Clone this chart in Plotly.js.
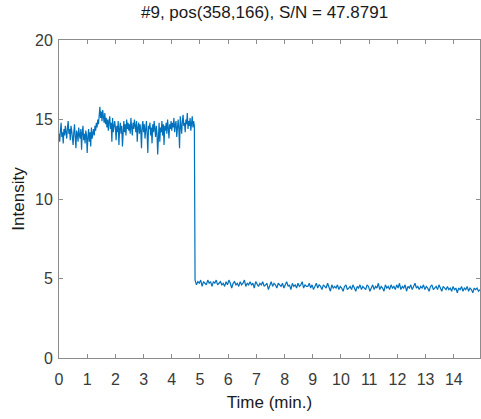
<!DOCTYPE html>
<html>
<head>
<meta charset="utf-8">
<script src="https://cdn.plot.ly/plotly-3.0.1.min.js"></script>
<style>html,body{margin:0;padding:0;background:#fff;}#chart{width:481px;height:419px;}</style>
</head>
<body>
<div id="chart"></div>
<script>
// Bright state (before bleaching), sampled every 0.025 min from t = 0
var brightStart = 0;
var brightStep = 0.025;
var brightIntensity = [
14.1,13.6,14.3,14.8,13.9,14.2,13.5,14.4,14.0,14.6,
14.2,13.8,14.5,14.9,14.1,14.4,13.7,14.6,14.3,14.0,
13.4,14.2,14.7,13.9,13.2,14.3,14.1,13.6,14.5,14.0,
13.8,14.4,13.1,14.2,14.6,13.7,14.1,13.5,14.3,14.0,
12.9,13.9,14.4,13.6,14.2,13.3,14.5,13.8,14.1,14.4,
14.0,14.6,14.3,14.8,14.5,15.0,14.7,15.3,15.8,15.1,
15.5,14.9,15.6,15.2,14.8,15.4,14.7,15.1,14.5,15.0,
14.3,14.9,15.2,14.4,14.8,13.6,15.1,14.2,14.7,14.9,
14.5,13.7,14.6,14.2,14.9,13.4,14.4,14.8,14.1,14.6,
13.3,14.5,14.9,14.2,14.7,14.0,15.0,14.4,14.8,14.3,
14.7,14.1,15.1,14.5,14.0,14.8,14.4,15.0,14.6,14.2,
14.9,13.6,14.5,14.8,14.1,14.7,14.3,13.2,14.6,14.9,
14.2,14.7,13.8,14.5,14.9,14.1,12.9,14.6,14.4,14.8,
14.0,14.5,13.5,14.7,14.2,14.9,14.3,13.9,14.6,14.1,
12.8,14.4,14.8,13.6,14.5,14.2,14.9,14.0,14.7,13.4,
14.6,14.3,14.8,14.1,15.0,14.5,13.8,14.7,14.4,14.9,
14.3,14.8,14.5,15.1,14.2,14.7,14.9,13.9,14.6,15.0,
14.4,13.2,15.2,14.5,14.1,14.9,15.3,14.6,14.8,14.2,
15.0,14.7,15.4,14.4,14.9,14.6,15.1,14.3,14.8,15.2,
14.5,14.9,14.6
];
// Dark state (after bleaching), sampled every 0.05 min from t = 4.825
var darkStart = 4.825;
var darkStep = 0.05;
var darkIntensity = [
4.9,4.6,4.8,4.7,4.9,4.5,4.8,4.7,4.6,4.9,
4.7,4.8,4.5,4.8,4.7,4.9,4.6,4.7,4.8,4.6,
4.7,4.5,4.8,4.6,4.9,4.7,4.4,4.7,4.8,4.6,
4.7,4.5,4.8,4.6,4.7,4.9,4.5,4.7,4.6,4.8,
4.6,4.7,4.4,4.8,4.6,4.5,4.7,4.6,4.8,4.5,
4.6,4.7,4.3,4.6,4.8,4.5,4.7,4.6,4.4,4.7,
4.6,4.5,4.7,4.4,4.6,4.8,4.5,4.6,4.3,4.7,
4.5,4.6,4.4,4.7,4.5,4.6,4.8,4.4,4.6,4.5,
4.5,4.7,4.4,4.6,4.3,4.5,4.7,4.4,4.6,4.5,
4.3,4.6,4.5,4.4,4.7,4.5,4.2,4.6,4.4,4.5,
4.4,4.6,4.3,4.5,4.4,4.2,4.5,4.6,4.3,4.4,
4.5,4.3,4.6,4.4,4.2,4.5,4.4,4.6,4.3,4.5,
4.4,4.3,4.6,4.5,4.2,4.4,4.6,4.3,4.5,4.4,
4.7,4.3,4.5,4.4,4.2,4.6,4.4,4.5,4.3,4.6,
4.4,4.5,4.3,4.6,4.4,4.7,4.3,4.5,4.4,4.6,
4.2,4.5,4.4,4.6,4.3,4.5,4.7,4.4,4.5,4.3,
4.5,4.4,4.6,4.3,4.5,4.4,4.2,4.5,4.6,4.3,
4.4,4.5,4.3,4.6,4.4,4.2,4.5,4.4,4.3,4.5,
4.3,4.4,4.2,4.5,4.3,4.4,4.1,4.4,4.3,4.5,
4.2,4.4,4.3,4.5,4.2,4.4,4.3,4.1,4.4,4.3,
4.4,4.2,4.3
];
var xTicks = [0,1,2,3,4,5,6,7,8,9,10,11,12,13,14];
var yTicks = [0,5,10,15,20];
var titleText = '#9, pos(358,166), S/N = 47.8791';
var xLabel = 'Time (min.)';
var yLabel = 'Intensity';

var t = [], y = [];
brightIntensity.forEach(function(v, i){ t.push(brightStart + i*brightStep); y.push(v); });
darkIntensity.forEach(function(v, i){ t.push(darkStart + i*darkStep); y.push(v); });

var font = 'Liberation Sans, Arial, Helvetica, sans-serif';
var axisCommon = {
  showgrid: false, zeroline: false,
  showline: true, linecolor: '#8c8c8c', linewidth: 1,
  mirror: 'ticks', ticks: 'inside', ticklen: 4, tickcolor: '#8c8c8c', tickwidth: 1,
  tickfont: {family: font, size: 16, color: '#3a3a3a'}
};
var layout = {
  width: 481, height: 419,
  margin: {l: 59, r: 1, t: 40, b: 61},
  paper_bgcolor: '#ffffff', plot_bgcolor: '#ffffff',
  showlegend: false,
  title: {text: titleText, font: {family: font, size: 17, color: '#1a1a1a'}, x: 0.55, xanchor: 'center', y: 0.972, yanchor: 'middle'},
  xaxis: Object.assign({}, axisCommon, {
    range: [0, 14.93], tickvals: xTicks, ticktext: xTicks.map(String), ticklabelstandoff: 7,
    title: {text: xLabel, font: {family: font, size: 17, color: '#1a1a1a'}, standoff: 8}
  }),
  yaxis: Object.assign({}, axisCommon, {
    range: [0, 20], tickvals: yTicks, ticktext: yTicks.map(String), ticklabelstandoff: 2,
    title: {text: yLabel, font: {family: font, size: 17, color: '#1a1a1a'}, standoff: 6}
  })
};
Plotly.newPlot('chart', [{
  type: 'scatter', mode: 'lines', x: t, y: y,
  line: {color: '#0072BD', width: 1.2}, hoverinfo: 'skip'
}], layout, {displayModeBar: false, staticPlot: true});
</script>
</body>
</html>
